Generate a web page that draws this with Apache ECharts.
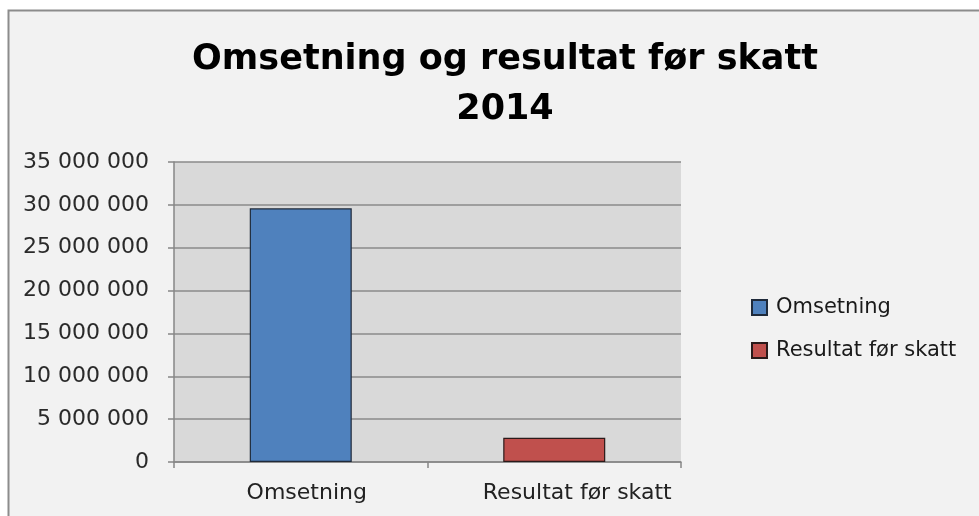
<!DOCTYPE html>
<html>
<head>
<meta charset="utf-8">
<script src="https://cdn.jsdelivr.net/npm/echarts@6/dist/echarts.min.js"></script>
<style>
  html, body { margin: 0; padding: 0; background: #ffffff; }
  #chart { width: 979px; height: 516px; }
</style>
</head>
<body>
<div id="chart"></div>
<script>
// Categories and values (NOK), 2014
const categories = ['Omsetning', 'Resultat før skatt'];
const omsetning = [29600000, null];
const resultatForSkatt = [null, 2830000];
const seriesNames = ['Omsetning', 'Resultat før skatt'];
const titleLines = ['Omsetning og resultat før skatt', '2014'];

const FONT = '"DejaVu Sans", Verdana, sans-serif';
// small rightward nudge of each category label
const labelNudge = [12, 46];

function formatThousands(v) {
  return String(v).replace(/\B(?=(\d{3})+(?!\d))/g, ' ');
}

const chart = echarts.init(document.getElementById('chart'), null, { renderer: 'canvas' });

chart.setOption({
  animation: false,
  backgroundColor: '#ffffff',
  graphic: [{
    type: 'rect',
    z: -10,
    silent: true,
    shape: { x: 8.5, y: 10.5, width: 1000, height: 600 },
    style: { fill: '#f2f2f2', stroke: '#8c8c8c', lineWidth: 2 }
  }],
  title: {
    text: titleLines.join('\n'),
    left: 500,
    textAlign: 'center',
    top: 30,
    textStyle: {
      fontFamily: FONT,
      fontWeight: 'bold',
      fontSize: 35,
      lineHeight: 50,
      color: '#000000'
    }
  },
  legend: {
    orient: 'vertical',
    left: 746,
    top: 292,
    itemGap: 22,
    itemWidth: 15,
    itemHeight: 15,
    icon: 'rect',
    data: seriesNames,
    textStyle: { fontFamily: FONT, fontSize: 21, color: '#1a1a1a', padding: [0, 0, 0, 4] }
  },
  grid: { left: 174, right: 298, top: 162, bottom: 54, containLabel: false,
          show: true, backgroundColor: '#d9d9d9', borderWidth: 0 },
  xAxis: {
    type: 'category',
    data: categories.map((c, i) => ({ value: c, textStyle: { padding: [0, 0, 0, labelNudge[i]] } })),
    axisLine: { lineStyle: { color: '#868686', width: 1.5 } },
    axisTick: { show: true, length: 6, lineStyle: { color: '#868686', width: 1.5 } },
    axisLabel: { fontFamily: FONT, fontSize: 22, color: '#222222', margin: 20 }
  },
  yAxis: {
    type: 'value',
    min: 0,
    max: 35000000,
    interval: 5000000,
    axisLine: { show: true, lineStyle: { color: '#868686', width: 1.5 } },
    axisTick: { show: true, length: 6, lineStyle: { color: '#868686', width: 1.5 } },
    splitLine: { lineStyle: { color: '#8a8a8a', width: 1.5 } },
    axisLabel: { fontFamily: FONT, fontSize: 22, color: '#2a2a2a', margin: 25,
                 formatter: formatThousands }
  },
  series: [
    {
      name: seriesNames[0],
      type: 'bar',
      data: omsetning,
      barWidth: 102,
      barGap: '-100%',
      itemStyle: { color: '#4f81bd', borderColor: '#1f2a3a', borderWidth: 1.2 }
    },
    {
      name: seriesNames[1],
      type: 'bar',
      data: resultatForSkatt,
      barWidth: 102,
      itemStyle: { color: '#c0504d', borderColor: '#2a1a1a', borderWidth: 1.2 }
    }
  ]
});
</script>
</body>
</html>
